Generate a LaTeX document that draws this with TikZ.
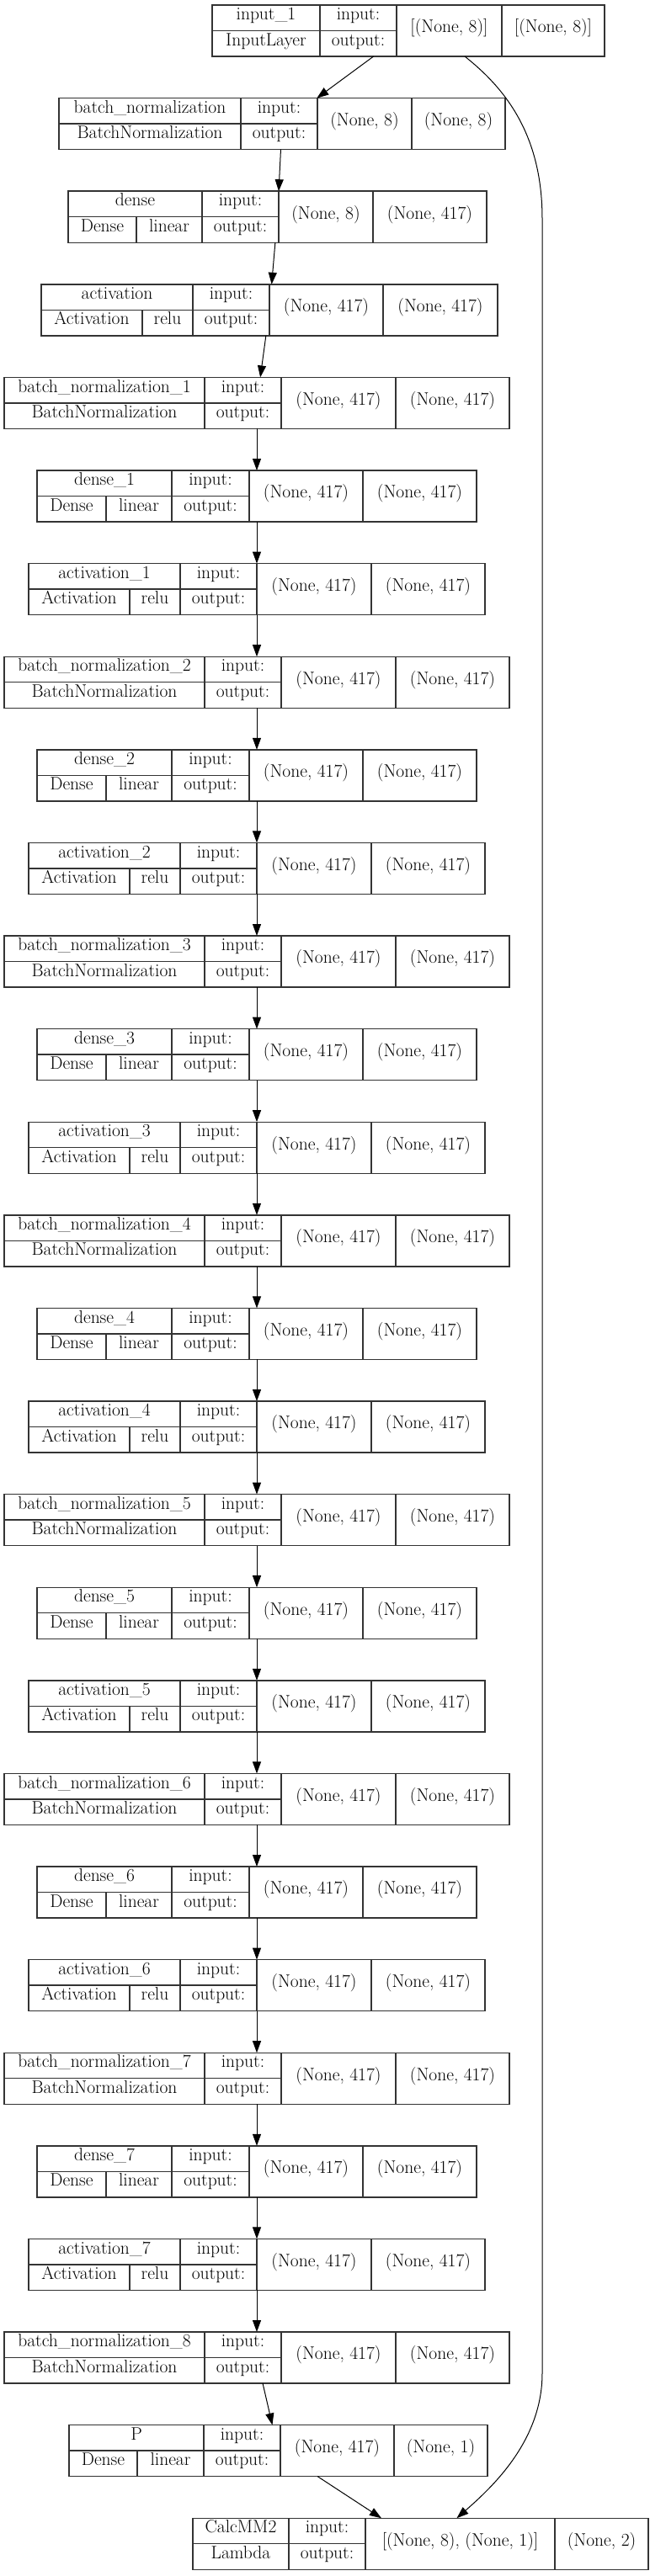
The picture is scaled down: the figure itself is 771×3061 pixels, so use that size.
\documentclass[tikz,border=0pt]{standalone}
\usetikzlibrary{arrows.meta}

\tikzset{
  recframe/.style={rectangle, draw=black!80, line width=1.4pt, inner sep=0pt, outer sep=0pt},
  recline/.style={draw=black!80, line width=1.4pt},
  lbl/.style={inner sep=0pt, text height=0.72em, text depth=0.24em, font=\fontsize{21.5}{26}\selectfont},
  edge/.style={line width=1pt, -{Triangle[length=14pt,width=10pt]}},
}

% record frame: id, top, left, split, c1, c2, c3, right
\newcommand{\recbox}[8]{%
  \node[recframe, minimum width={(#8-#3)*1pt}, minimum height=61pt] (#1) at ({(#3+#8)/2},{#2+30.5}) {};
  \draw[recline] (#5,#2) -- ++(0,61) (#6,#2) -- ++(0,61) (#7,#2) -- ++(0,61);
  \draw[recline] (#3,#2+30.5) -- (#6,#2+30.5);
  \draw[recline] (#4,#2+30.5) -- (#4,#2+61);
  \coordinate (#1-n) at ({(#3+#5)/2},{#2+15.25});
  \coordinate (#1-t) at ({(#3+#4)/2},{#2+45.75});
  \coordinate (#1-a) at ({(#4+#5)/2},{#2+45.75});
  \coordinate (#1-i) at ({(#5+#6)/2},{#2+15.25});
  \coordinate (#1-o) at ({(#5+#6)/2},{#2+45.75});
  \coordinate (#1-p) at ({(#6+#7)/2},{#2+30.5});
  \coordinate (#1-q) at ({(#7+#8)/2},{#2+30.5});
}
% record texts: id, name, type, act, in shape, out shape
\newcommand{\rectext}[6]{%
  \node[lbl] (#1-name) at (#1-n) {#2};
  \node[lbl] (#1-type) at (#1-t) {#3};
  \if\relax\detokenize{#4}\relax\else\node[lbl] (#1-act) at (#1-a) {#4};\fi
  \node[lbl] (#1-in) at (#1-i) {input:};
  \node[lbl] (#1-out) at (#1-o) {output:};
  \node[lbl] (#1-ish) at (#1-p) {#5};
  \node[lbl] (#1-osh) at (#1-q) {#6};
}

\begin{document}
\begin{tikzpicture}[x=1pt,y=-1pt]
\useasboundingbox (0,0) rectangle (771,3061);

% input and first block
\recbox{in1}{6}{252}{380}{380}{471}{596}{718}
\rectext{in1}{input\_1}{InputLayer}{}{[(None, 8)]}{[(None, 8)]}
\recbox{bn0}{116.6}{70}{286}{286}{377}{489}{600}
\rectext{bn0}{batch\_normalization}{BatchNormalization}{}{(None, 8)}{(None, 8)}
\recbox{dn0}{227.2}{81}{162}{240}{331}{443}{578}
\rectext{dn0}{dense}{Dense}{linear}{(None, 8)}{(None, 417)}
\recbox{ac0}{337.8}{49}{169}{229}{320}{455}{591}
\rectext{ac0}{activation}{Activation}{relu}{(None, 417)}{(None, 417)}
\draw[edge] (in1) -- (bn0);
\draw[edge] (bn0) -- (dn0);
\draw[edge] (dn0) -- (ac0);

% repeated blocks
\foreach \k in {1,...,7}{
  \pgfmathtruncatemacro{\j}{\k-1}
  \pgfmathsetmacro{\ya}{6+110.6*(3*\k+1)}
  \pgfmathsetmacro{\yb}{\ya+110.6}
  \pgfmathsetmacro{\yc}{\yb+110.6}
  \recbox{bn\k}{\ya}{5}{243}{243}{334}{470}{605}
  \rectext{bn\k}{batch\_normalization\_\k}{BatchNormalization}{}{(None, 417)}{(None, 417)}
  \recbox{dn\k}{\yb}{44}{126}{204}{296}{431}{566}
  \rectext{dn\k}{dense\_\k}{Dense}{linear}{(None, 417)}{(None, 417)}
  \recbox{ac\k}{\yc}{34}{154}{214}{305}{441}{576}
  \rectext{ac\k}{activation\_\k}{Activation}{relu}{(None, 417)}{(None, 417)}
  \draw[edge] (ac\j) -- (bn\k);
  \draw[edge] (bn\k) -- (dn\k);
  \draw[edge] (dn\k) -- (ac\k);
}

% output block
\recbox{bn8}{2771}{5}{243}{243}{334}{470}{605}
\rectext{bn8}{batch\_normalization\_8}{BatchNormalization}{}{(None, 417)}{(None, 417)}
\recbox{pp}{2881.6}{82}{163}{242}{333}{468}{579}
\rectext{pp}{P}{Dense}{linear}{(None, 417)}{(None, 1)}
\recbox{calc}{2992.2}{229}{343}{343}{434}{659}{770}
\rectext{calc}{CalcMM2}{Lambda}{}{[(None, 8), (None, 1)]}{(None, 2)}
\draw[edge] (ac7) -- (bn8);
\draw[edge] (bn8) -- (pp);
\draw[edge] (pp) -- (calc);

% skip connection
\draw[edge] ([xshift=67pt]in1.south) .. controls (600,105) and (644,160) .. (644,260)
  -- (644,2820) .. controls (644,2900) and (585,2955) .. ([xshift=43pt]calc.north);

\end{tikzpicture}
\end{document}
